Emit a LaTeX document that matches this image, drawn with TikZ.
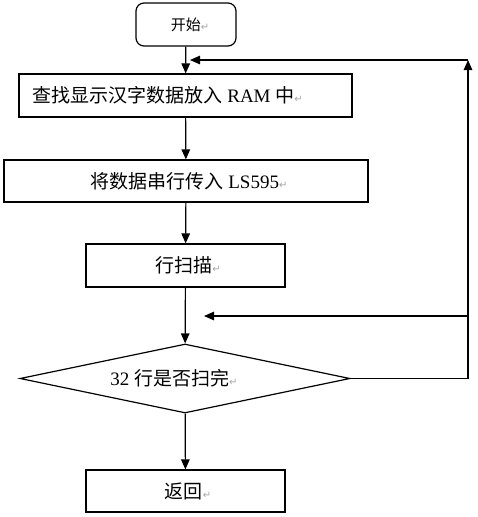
\documentclass[tikz,border=0pt]{standalone}
\usepackage{fontspec}
\setmainfont{Liberation Serif}
\newfontfamily\cjk{Noto Sans CJK SC}
\newfontfamily\symf{DejaVu Sans}
\usetikzlibrary{arrows.meta,shapes.geometric}
\newcommand{\parmark}{{\symf\fontsize{10}{10}\selectfont\color{gray!70}↵}}
\begin{document}
\begin{tikzpicture}[x=1pt,y=-1pt,
  line width=1.2pt,
  every node/.style={inner sep=0pt},
  box/.style={draw,rectangle},
  startbox/.style={draw,rectangle,rounded corners=8pt},
  txt/.style={font=\fontsize{19}{19}\selectfont},
  flow/.style={-{Triangle[length=10pt,width=8.5pt]}}]
\useasboundingbox[fill=white] (0,0) rectangle (477,517);
% nodes
\node[startbox,minimum width=100pt,minimum height=43pt] (start) at (186,24.5) {};
\node[font=\fontsize{15}{15}\selectfont] (tstart) at (190,24.5) {\cjk 开始\parmark};
\node[box,minimum width=333pt,minimum height=43pt] (b1) at (185.5,95.5) {};
\node[txt,anchor=west] (t1) at (32,95.5) {\cjk 查找显示汉字数据放入\rmfamily\ RAM\ \cjk 中\parmark};
\node[box,minimum width=364pt,minimum height=42pt] (b2) at (186,181) {};
\node[txt] (t2) at (189,181) {\cjk 将数据串行传入\rmfamily\ LS595\parmark};
\node[box,minimum width=199pt,minimum height=43pt] (b3) at (185.5,265.5) {};
\node[txt] (t3) at (188,265.5) {\cjk 行扫描\parmark};
\node[draw,diamond,minimum width=330pt,minimum height=69pt] (d) at (185,378.5) {};
\node[txt] (td) at (174,378.5) {32 \cjk 行是否扫完\parmark};
\node[box,minimum width=199pt,minimum height=42pt] (b4) at (185.5,491) {};
\node[txt] (t4) at (188,491) {\cjk 返回\parmark};
% loop coordinates
\coordinate (cR) at (468,378.5);
\coordinate (cTR) at (468,60);
\coordinate (cTL) at (190,60);
\coordinate (cMR) at (468,316);
\coordinate (cML) at (204,316);
% connectors
\draw[flow] (start) -- (b1);
\draw[flow] (b1) -- (b2);
\draw[flow] (b2) -- (b3);
\draw[flow] (b3) -- (d);
\draw[flow] (d) -- (b4);
\draw[flow] (d.east) -- (cR) -- (cTR);
\draw[flow] (cTR) -- (cTL);
\draw[flow] (cMR) -- (cML);
\end{tikzpicture}
\end{document}
